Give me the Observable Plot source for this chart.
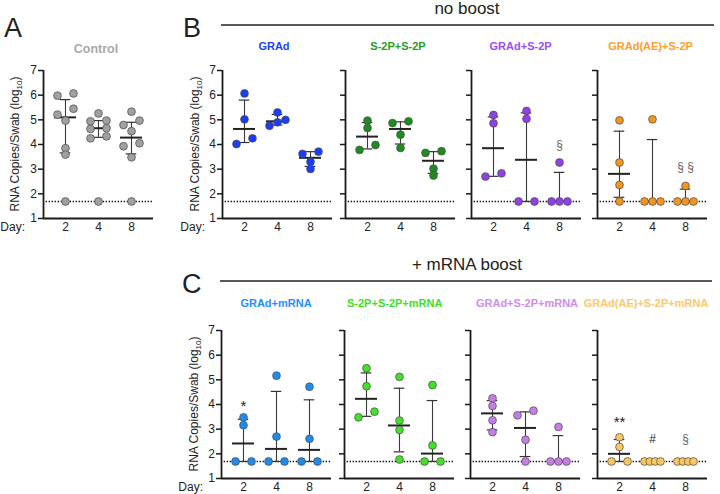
<!DOCTYPE html>
<html><head><meta charset="utf-8">
<script src="https://cdn.jsdelivr.net/npm/d3@7"></script>
<script src="https://cdn.jsdelivr.net/npm/@observablehq/plot@0.6"></script>
<style>
body{margin:0;background:#fff;}
#chart{position:relative;width:720px;height:494px;overflow:hidden;font-family:"Liberation Sans",Arial,sans-serif;background:#fff;}
.sub{position:absolute;}
#overlay{position:absolute;left:0;top:0;pointer-events:none;}
</style></head><body><div id="chart"></div>
<script>
// ---------- data ----------
const days = ["2", "4", "8"];
const LOD = 1.69;
const yTicks = [1, 2, 3, 4, 5, 6, 7];
const groupNames = ["Control", "GRAd", "S-2P+S-2P", "GRAd+S-2P", "GRAd(AE)+S-2P",
  "GRAd+mRNA", "S-2P+S-2P+mRNA", "GRAd+S-2P+mRNA", "GRAd(AE)+S-2P+mRNA"];
const dotColors = ["#a0a0a0", "#1a3ef5", "#1e8c1e", "#9040e8", "#f7941e",
  "#1c8cf0", "#44e02a", "#c77ce8", "#f9c760"];
const titleColors = ["#a8a8a8", "#1f3fff", "#22a022", "#9b4dff", "#ff9d2e",
  "#1e90ff", "#3ee02a", "#d08cf0", "#fdc86a"];

// log10 RNA copies per swab, per day (2, 4, 8)
const controlValues = [[6.07, 5.98, 5.45, 5.21, 4.97, 3.85, 3.59, 1.69],
                       [5.26, 4.97, 4.94, 4.66, 4.63, 4.33, 4.25, 1.69],
                       [5.33, 4.97, 4.79, 4.54, 4.05, 3.93, 3.48, 1.69]];
const gradValues = [[6.07, 5.02, 4.25, 4.02], [5.30, 5.00, 4.90, 4.76], [3.71, 3.62, 3.30, 3.01]];
const s2pValues = [[4.97, 4.67, 3.98, 3.78], [4.94, 4.87, 4.40, 3.86], [3.73, 3.66, 3.02, 2.74]];
const gradS2pValues = [[5.20, 4.86, 2.83, 2.70], [5.36, 5.04, 1.69, 1.69], [3.27, 1.69, 1.69, 1.69]];
const gradAeS2pValues = [[4.98, 3.27, 2.36, 1.69], [5.02, 1.69, 1.69, 1.69], [2.32, 1.69, 1.69, 1.69]];
const gradMrnaValues = [[3.48, 3.16, 1.69, 1.69], [5.17, 2.70, 1.69, 1.69], [4.72, 2.61, 1.69, 1.69]];
const s2pMrnaValues = [[5.47, 4.74, 3.71, 3.48], [5.12, 3.35, 2.97, 1.77], [4.79, 2.34, 1.69, 1.69]];
const gradS2pMrnaValues = [[4.25, 3.94, 3.36, 2.88], [3.75, 3.56, 2.57, 1.69], [3.09, 1.69, 1.69, 1.69]];
const gradAeS2pMrnaValues = [[2.67, 2.28, 1.69, 1.69], [1.69, 1.69, 1.69, 1.69], [1.69, 1.69, 1.69, 1.69]];
const groupValues = [controlValues, gradValues, s2pValues, gradS2pValues, gradAeS2pValues,
  gradMrnaValues, s2pMrnaValues, gradS2pMrnaValues, gradAeS2pMrnaValues];

// median and interquartile range (bars) per group, per day
const medians = [[5.10, 4.66, 4.28], [4.63, 4.94, 3.46], [4.32, 4.63, 3.34], [3.85, 3.38, 1.69], [2.81, 1.69, 1.69],
  [2.42, 2.20, 2.16], [4.23, 3.15, 2.01], [3.64, 3.05, 1.69], [2.00, 1.69, 1.69]];
const lowerBars = [[3.66, 4.29, 3.62], [4.08, 4.79, 3.11], [3.82, 4.02, 2.83], [2.71, 1.69, 1.69], [1.86, 1.69, 1.69],
  [1.69, 1.69, 1.69], [3.52, 2.08, 1.69], [2.97, 1.89, 1.69], [1.69, 1.69, 1.69]];
const upperBars = [[5.82, 4.97, 4.90], [5.80, 5.22, 3.71], [4.89, 4.92, 3.71], [5.12, 5.28, 2.87], [4.54, 4.20, 2.19],
  [3.40, 4.53, 4.19], [5.28, 4.66, 4.16], [4.16, 3.70, 2.74], [2.58, 1.69, 1.69]];

// significance marks
const annoGroup = [3, 4, 5, 8, 8, 8];
const annoDay = [2, 2, 0, 0, 1, 2];
const annoText = ["§", "§ §", "*", "**", "#", "§"];
const annoLevel = [3.98, 3.10, 3.95, 3.28, 2.61, 2.58];

// ---------- layout ----------
const layout = [
  {g: 0, ax: 43, y7: 70, labels: true},
  {g: 1, ax: 222, y7: 70, labels: true}, {g: 2, ax: 344.5, y7: 70}, {g: 3, ax: 471, y7: 70}, {g: 4, ax: 597, y7: 70},
  {g: 5, ax: 220.5, y7: 330, labels: true}, {g: 6, ax: 343.7, y7: 330}, {g: 7, ax: 470, y7: 330}, {g: 8, ax: 597, y7: 330}
];
const ML = 26, MR = 6, MT = 8, MB = 20, IW = 110, IH = 148;
const xmin = -2 / 3, xmax = 2 + 2 / 3;
const pxPerUnit = IW / (xmax - xmin);
const FONT = '"Liberation Sans", Arial, sans-serif';

function swarm(vals, day) {
  const sorted = vals.slice().sort((a, b) => b - a);
  const rows = [];
  for (const v of sorted) {
    const r = rows[rows.length - 1];
    if (r && r[0] - v < 0.255) r.push(v); else rows.push([v]);
  }
  const S = 8 / pxPerUnit;
  const out = [];
  for (const r of rows) {
    const asc = r.slice().sort((a, b) => a - b);
    const n = asc.length;
    asc.forEach((v, k) => out.push({day, v, off: n === 1 ? 0 : -S + 2 * S * k / (n - 1)}));
  }
  return out;
}

const chart = document.getElementById("chart");

for (const L of layout) {
  const g = L.g;
  const pts = groupValues[g].flatMap((vals, i) => swarm(vals, i));
  const stats = days.map((d, i) => ({day: i, med: medians[g][i], lo: lowerBars[g][i], hi: upperBars[g][i]}));
  const annos = annoGroup.map((ag, k) => ({ag, day: annoDay[k], text: annoText[k], level: annoLevel[k]})).filter(a => a.ag === g);
  const cap = 5.3 / pxPerUnit, half = 11 / pxPerUnit;
  const svg = Plot.plot({
    width: ML + IW + MR, height: MT + IH + MB,
    marginLeft: ML, marginRight: MR, marginTop: MT, marginBottom: MB,
    x: {type: "linear", domain: [xmin, xmax]},
    y: {type: "linear", domain: [1, 7]},
    style: {fontFamily: FONT, fontSize: "12px", color: "#222", background: "transparent", overflow: "visible"},
    marks: [
      Plot.ruleY([LOD], {x1: xmin + 0.08, x2: xmax, stroke: "#111", strokeWidth: 1.4, strokeDasharray: "1.4,1.6"}),
      Plot.ruleX(stats, {x: "day", y1: "lo", y2: "hi", stroke: "#3a3a3a", strokeWidth: 1.1}),
      Plot.ruleY(stats, {y: "lo", x1: d => d.day - cap, x2: d => d.day + cap, stroke: "#333", strokeWidth: 1.2}),
      Plot.ruleY(stats, {y: "hi", x1: d => d.day - cap, x2: d => d.day + cap, stroke: "#333", strokeWidth: 1.2}),
      Plot.ruleY(stats, {y: "med", x1: d => d.day - half, x2: d => d.day + half, stroke: "#222", strokeWidth: 2}),
      Plot.dot(pts, {x: d => d.day + d.off, y: "v", r: 3.9, fill: dotColors[g], stroke: "#4a4a4a", strokeWidth: 0.7}),
      Plot.text(annos, {x: "day", y: "level", text: "text",
        fontSize: d => d.text.includes("*") ? 15 : 12,
        fill: d => d.text.includes("§") ? "#666" : "#222"}),
      Plot.ruleX([xmin], {y1: 1, y2: 7, stroke: "#1a1a1a", strokeWidth: 1.8}),
      Plot.ruleY([1], {x1: xmin, x2: xmax, stroke: "#1a1a1a", strokeWidth: 1.8}),
      Plot.axisY({ticks: yTicks, tickSize: 5, tickPadding: 1.5, strokeWidth: 1.5, stroke: "#1a1a1a",
        tickFormat: L.labels ? (d => String(d)) : (() => ""), label: null, fontSize: 12}),
      Plot.axisX({ticks: [0, 1, 2], tickFormat: i => days[i], tickSize: 0, tickPadding: 4, label: null, fontSize: 12})
    ]
  });
  const wrap = document.createElement("div");
  wrap.className = "sub";
  wrap.style.left = (L.ax - ML) + "px";
  wrap.style.top = (L.y7 - MT) + "px";
  wrap.appendChild(svg);
  chart.appendChild(wrap);
}

// ---------- overlay text ----------
const ov = d3.select(chart).append("svg").attr("id", "overlay").attr("width", 720).attr("height", 494)
  .style("font-family", FONT);

function txt(x, y, s, opt = {}) {
  return ov.append("text").attr("x", x).attr("y", y).text(s)
    .attr("font-size", opt.size || 12).attr("fill", opt.fill || "#222")
    .attr("font-weight", opt.weight || "normal").attr("text-anchor", opt.anchor || "start");
}
txt(4, 37, "A", {size: 27});
txt(183, 37, "B", {size: 27});
txt(182, 293, "C", {size: 27});

txt(467, 14, "no boost", {size: 17, anchor: "middle"});
ov.append("line").attr("x1", 221).attr("x2", 714).attr("y1", 25).attr("y2", 25).attr("stroke", "#222").attr("stroke-width", 1.5);
txt(467, 270, "+ mRNA boost", {size: 17, anchor: "middle"});
ov.append("line").attr("x1", 220).attr("x2", 712).attr("y1", 281).attr("y2", 281).attr("stroke", "#222").attr("stroke-width", 1.5);

const titleX = [96, 274, 398, 520.6, 650.6, 276, 394.7, 527, 646];
const titleY = [53, 50, 50, 50, 50, 306.5, 306.5, 306.5, 306.5];
groupNames.forEach((n, g) => txt(titleX[g], titleY[g], n, {size: g === 0 ? 12.5 : 11, weight: "bold", fill: titleColors[g], anchor: "middle"}));

txt(25, 230.5, "Day:", {anchor: "end"});
txt(205, 230.5, "Day:", {anchor: "end"});
txt(203, 490.5, "Day:", {anchor: "end"});

function ylab(x, y) {
  const t = ov.append("text").attr("transform", `translate(${x},${y}) rotate(-90)`)
    .attr("text-anchor", "middle").attr("font-size", 12).attr("fill", "#222");
  t.append("tspan").text("RNA Copies/Swab (log");
  t.append("tspan").attr("font-size", 8).attr("dy", 3).text("10");
  t.append("tspan").attr("dy", -3).text(")");
}
ylab(18.5, 144);
ylab(199, 144);
ylab(198, 404);
</script></body></html>
